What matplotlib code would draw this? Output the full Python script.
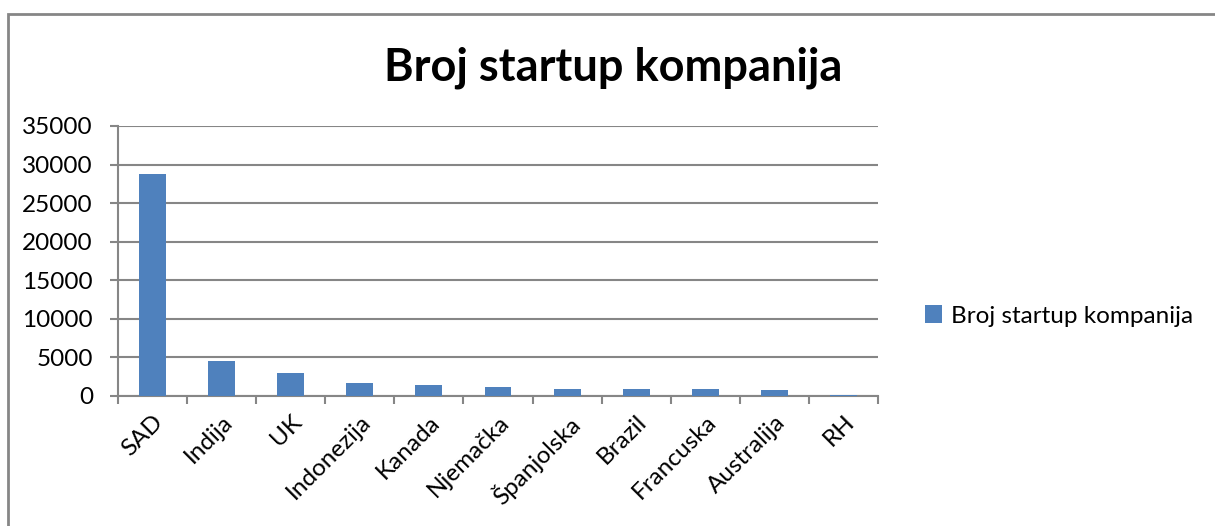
import matplotlib
matplotlib.use("Agg")
import matplotlib.pyplot as plt
import numpy as np
from matplotlib.patches import Rectangle

categories = ["SAD", "Indija", "UK", "Indonezija", "Kanada", "Njemačka",
              "Španjolska", "Brazil", "Francuska", "Australija", "RH"]
values = [28750, 4600, 3000, 1650, 1450, 1200, 950, 870, 860, 780, 130]
yticks = [0, 5000, 10000, 15000, 20000, 25000, 30000, 35000]
series_name = "Broj startup kompanija"
title = "Broj startup kompanija"

plt.rcParams['font.family'] = ['Lato', 'DejaVu Sans']

W, H = 1215, 526
fig = plt.figure(figsize=(W / 100, H / 100), dpi=100)
ax = fig.add_axes([118 / W, 1 - 396 / H, (878 - 118) / W, (396 - 126) / H])

grey = "#868686"
x = np.arange(len(categories))
ax.bar(x, values, width=0.39, color="#4F81BD", label=series_name, zorder=3)

ax.set_xlim(-0.5, len(categories) - 0.5)
ax.set_ylim(0, 35000)
ax.set_yticks(yticks)
ax.set_yticklabels([str(v) for v in yticks], fontsize=17.5)
ax.yaxis.grid(True, color=grey, linewidth=1.5, zorder=0)
ax.set_axisbelow(True)

ax.set_xticks(x)
ax.set_xticklabels(categories, fontsize=17.5, rotation=45, ha="right",
                   rotation_mode="anchor")
ax.set_xticks(np.arange(-0.5, len(categories)), minor=True)
ax.tick_params(axis="x", which="major", length=0, pad=11)
ax.tick_params(axis="x", which="minor", length=6, width=1.5, color=grey, direction="out")
ax.tick_params(axis="y", length=6, width=1.5, color=grey, direction="out", pad=12)

for s in ["top", "right"]:
    ax.spines[s].set_visible(False)
for s in ["left", "bottom"]:
    ax.spines[s].set_color(grey)
    ax.spines[s].set_linewidth(1.5)

fig.text(613 / W, 1 - 68 / H, title, fontsize=32.5, fontweight="bold",
         ha="center", va="center")

leg = fig.legend(loc="center left", bbox_to_anchor=(915 / W, 1 - 316 / H),
                 frameon=False, fontsize=17.5, handlelength=0.7, handleheight=0.7,
                 handletextpad=0.4, borderaxespad=0)

fig.patches.append(Rectangle((8 / W, -0.1), 1.2, 1 - 14 / H + 0.1,
                             transform=fig.transFigure, fill=False,
                             edgecolor=grey, linewidth=2))

fig.savefig("out.png", dpi=100)
